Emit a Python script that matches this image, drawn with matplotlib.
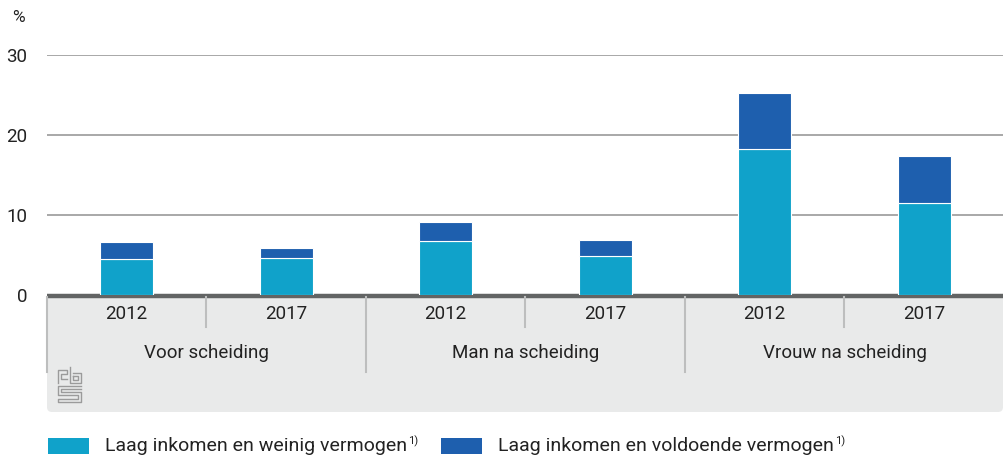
import matplotlib
matplotlib.use("Agg")
import matplotlib.pyplot as plt
from matplotlib.patches import FancyBboxPatch, Rectangle
from matplotlib.lines import Line2D
import numpy as np

groups = ["Voor scheiding", "Man na scheiding", "Vrouw na scheiding"]
years = ["2012", "2017"]
weinig = [4.5, 4.6, 6.8, 4.9, 18.2, 11.5]
voldoende = [2.1, 1.3, 2.3, 2.0, 7.0, 5.9]
series_labels = ["Laag inkomen en weinig vermogen", "Laag inkomen en voldoende vermogen"]
yticks = [0, 10, 20, 30]

c_light = "#10a2ca"
c_dark = "#1e5fae"
panel = "#e9eaea"
tc = "#222222"

plt.rcParams['font.family'] = ['Roboto', 'DejaVu Sans']

W, H = 1004, 457
fig = plt.figure(figsize=(W/100, H/100), dpi=100)

def fx(px): return px / W
def fy(py): return 1 - py / H

ax = fig.add_axes([fx(47), fy(295), fx(1004) - fx(47), fy(55) - fy(295)])
n = len(weinig)
x = np.arange(n)
ax.set_xlim(-0.5, n - 0.5)
ax.set_ylim(0, 30)
for t in yticks[1:]:
    ax.axhline(t, color="#9a9a9a", lw=1.2, zorder=0)
ax.bar(x, weinig, width=0.33, color=c_light, edgecolor="white", linewidth=0.8, zorder=2)
ax.bar(x, voldoende, bottom=weinig, width=0.33, color=c_dark, edgecolor="white", linewidth=0.8, zorder=2)
for s in ax.spines.values():
    s.set_visible(False)
ax.set_xticks([])
ax.set_yticks(yticks)
ax.set_yticklabels([str(t) for t in yticks], fontsize=13.5, color=tc)
ax.tick_params(axis="y", length=0, pad=14)
ax.set_facecolor("none")

# category panel (pixel coordinates)
bg = fig.add_axes([0, 0, 1, 1], zorder=-1)
bg.set_xlim(0, W); bg.set_ylim(H, 0); bg.axis("off")
bg.add_patch(FancyBboxPatch((47, 297), 1004 - 47 - 1, 412 - 297,
                            boxstyle="round,pad=0,rounding_size=5", fc=panel, ec="none"))
bg.add_patch(Rectangle((47, 297), 1004 - 47, 20, fc=panel, ec="none"))
bg.add_line(Line2D([47, 1004], [295.5, 295.5], color="#626464", lw=3.2, solid_capstyle="butt"))

slot = (1004 - 47) / n
for i in range(n):
    cx = 47 + slot * (i + 0.5)
    bg.text(cx, 314, years[i % 2], ha="center", va="center", fontsize=13.5, color=tc)
for g in range(len(groups)):
    cx = 47 + slot * (2 * g + 1)
    bg.text(cx, 353, groups[g], ha="center", va="center", fontsize=13.5, color=tc)
for i in range(1, n):
    xx = 47 + slot * i
    y2 = 372 if i % 2 == 0 else 327
    bg.add_line(Line2D([xx, xx], [297, y2], color="#bdbebe", lw=1.5))
bg.add_line(Line2D([47.5, 47.5], [297, 372], color="#bdbebe", lw=1.5))

# simple cbs logo approximation
lc = "#9b9b9b"
logo = [
    ([58, 58, 67, 67, 61, 61, 67], [383, 370, 370, 374, 374, 379, 379]),
    ([70, 70, 81, 81, 73], [367, 383, 383, 373, 373]),
    ([73, 73, 78, 78, 73], [376, 380, 380, 376, 376]),
    ([81, 58, 58, 78, 78, 58, 58, 81, 81, 61, 61, 81],
     [386, 386, 395, 395, 399, 399, 402, 402, 392, 392, 389, 389]),
]
for xs, ys in logo:
    bg.add_line(Line2D(xs, ys, color=lc, lw=1.0))

# legend
fig.canvas.draw()
renderer = fig.canvas.get_renderer()
for (x0, col, lab) in [(48, c_light, series_labels[0]), (441, c_dark, series_labels[1])]:
    bg.add_patch(Rectangle((x0, 438), 41, 16, fc=col, ec="none"))
    t = bg.text(x0 + 57, 446, lab, ha="left", va="center", fontsize=14, color=tc)
    bb = t.get_window_extent(renderer)
    fig.text((bb.x1 + 1) / W, 1 - 441 / H, "1)", fontsize=8, color=tc, va="center", ha="left")

bg.text(12, 17, "%", fontsize=12.5, color=tc, ha="left", va="center")

fig.savefig("out.png", dpi=100)
